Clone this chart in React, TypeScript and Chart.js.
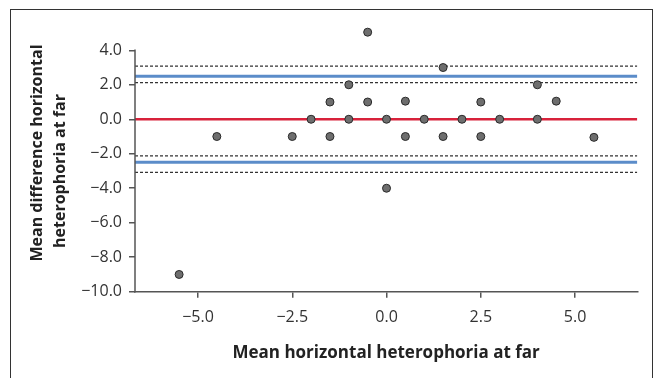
import React, { useEffect, useRef } from "react";
import { Chart, registerables } from "chart.js";

Chart.register(...registerables);

// ---- data ----
const POINTS_X = [-5.5, -4.5, -2.5, -2, -1.5, -1.5, -1, -1, -0.5, -0.5, 0, 0, 0.5, 0.5, 1, 1.5, 1.5, 2, 2.5, 2.5, 3, 4, 4, 4.5, 5.5];
const POINTS_Y = [-9, -1, -1, 0, 1, -1, 2, 0, 5.05, 1, 0, -4, 1.05, -1, 0, 3, -1, 0, 1, -1, 0, 2, 0, 1.05, -1.05];
const MEAN_DIFF = 0;
const LOA = [2.5, -2.5];
const LOA_CI = [3.08, 2.12, -2.12, -3.08];
const X_TICKS = [-5, -2.5, 0, 2.5, 5];
const Y_TICKS = [4, 2, 0, -2, -4, -6, -8, -10];
const X_RANGE = [-6.67, 6.65];
const Y_RANGE = [-10, 5.6];
const Y_AXIS_SPAN = [-10, 4];
const X_TITLE = "Mean horizontal heterophoria at far";
const Y_TITLE = ["Mean difference horizontal", "heterophoria at far"];

const FONT = "'Open Sans', 'DejaVu Sans', sans-serif";
const fmt = (v: number) => v.toFixed(1).replace("-", "\u2212");

const hLine = (y: number) => [
  { x: X_RANGE[0], y },
  { x: X_RANGE[1], y },
];

const framePlugin = {
  id: "frame",
  beforeDraw(chart: any) {
    const ctx = chart.ctx;
    ctx.save();
    ctx.fillStyle = "#ffffff";
    ctx.fillRect(0, 0, chart.width, chart.height);
    ctx.strokeStyle = "#333333";
    ctx.lineWidth = 1;
    ctx.strokeRect(10.5, 9.5, 642, 420);
    ctx.restore();
  },
  afterDraw(chart: any) {
    const ctx = chart.ctx;
    const ys = chart.scales.y;
    ctx.save();
    // y axis line, spanning only the tick range
    ctx.strokeStyle = "#555555";
    ctx.lineWidth = 1.5;
    ctx.beginPath();
    const x0 = chart.chartArea.left;
    ctx.moveTo(x0, ys.getPixelForValue(Y_AXIS_SPAN[1]) - 0.75);
    ctx.lineTo(x0, ys.getPixelForValue(Y_AXIS_SPAN[0]) + 0.75);
    ctx.stroke();
    // y title
    ctx.fillStyle = "#222222";
    ctx.font = `bold 16px ${FONT}`;
    ctx.textAlign = "center";
    ctx.textBaseline = "middle";
    const pos = [
      [37, 153],
      [60, 171],
    ];
    Y_TITLE.forEach((t, i) => {
      ctx.save();
      ctx.translate(pos[i][0], pos[i][1]);
      ctx.rotate(-Math.PI / 2);
      ctx.fillText(t, 0, 0);
      ctx.restore();
    });
    ctx.restore();
  },
};

export default function App() {
  const ref = useRef<HTMLCanvasElement | null>(null);

  useEffect(() => {
    if (!ref.current) return;
    const lineBase = { type: "line" as const, pointRadius: 0, fill: false, tension: 0 };
    const datasets: any[] = [
      {
        type: "scatter",
        data: POINTS_X.map((x, i) => ({ x, y: POINTS_Y[i] })),
        pointRadius: 4,
        pointBackgroundColor: "#6e6e6e",
        pointBorderColor: "#2a2a2a",
        pointBorderWidth: 1,
        clip: false,
        order: 0,
      },
      { ...lineBase, data: hLine(MEAN_DIFF), borderColor: "#d8223b", borderWidth: 2.5, order: 2 },
      ...LOA.map((v) => ({ ...lineBase, data: hLine(v), borderColor: "#5b8cc9", borderWidth: 3, order: 3 })),
      ...LOA_CI.map((v) => ({
        ...lineBase,
        data: hLine(v),
        borderColor: "#333333",
        borderWidth: 1.2,
        borderDash: [3, 2],
        order: 4,
      })),
    ];

    const chart = new Chart(ref.current, {
      type: "scatter",
      data: { datasets },
      plugins: [framePlugin],
      options: {
        animation: false,
        responsive: false,
        devicePixelRatio: 1,
        layout: { padding: { top: 22.7, right: 23.7, left: 0, bottom: 0 } },
        plugins: { legend: { display: false }, tooltip: { enabled: false } },
        scales: {
          x: {
            type: "linear",
            min: X_RANGE[0],
            max: X_RANGE[1],
            afterBuildTicks: (s: any) => {
              s.ticks = X_TICKS.map((v) => ({ value: v }));
            },
            afterFit: (s: any) => {
              s.height = 378 - 291.7;
            },
            ticks: {
              callback: (v: any) => fmt(Number(v)),
              color: "#333333",
              font: { family: FONT, size: 16 },
              padding: 10,
              maxRotation: 0,
            },
            grid: { display: true, drawOnChartArea: false, drawTicks: true, tickLength: 6, color: "#555555", lineWidth: 1.5 },
            border: { display: true, color: "#555555", width: 1.5 },
            title: {
              display: true,
              text: X_TITLE,
              color: "#222222",
              font: { family: FONT, size: 17, weight: "bold" },
              padding: { top: 0, bottom: 15 },
            },
          },
          y: {
            type: "linear",
            min: Y_RANGE[0],
            max: Y_RANGE[1],
            afterBuildTicks: (s: any) => {
              s.ticks = Y_TICKS.map((v) => ({ value: v }));
            },
            afterFit: (s: any) => {
              s.width = 135;
            },
            ticks: {
              callback: (v: any) => fmt(Number(v)),
              color: "#333333",
              font: { family: FONT, size: 16 },
              padding: 7,
            },
            grid: { display: true, drawOnChartArea: false, drawTicks: true, tickLength: 6, color: "#555555", lineWidth: 1.5 },
            border: { display: false },
          },
        },
      } as any,
    });
    return () => chart.destroy();
  }, []);

  return (
    <div style={{ position: "absolute", left: 0, top: 0, width: 661, height: 378, background: "#fff" }}>
      <canvas ref={ref} width={661} height={378} style={{ display: "block" }} />
    </div>
  );
}
